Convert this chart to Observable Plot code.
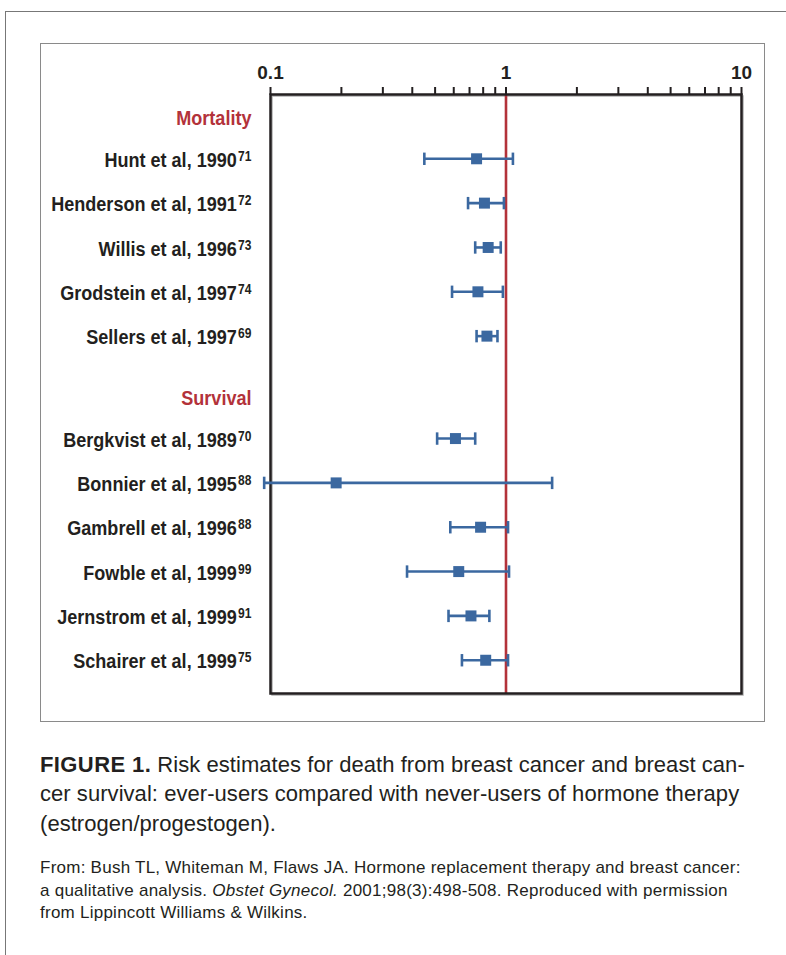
<!DOCTYPE html>
<html>
<head>
<meta charset="utf-8">
<script src="https://cdn.jsdelivr.net/npm/d3@7"></script>
<script src="https://cdn.jsdelivr.net/npm/@observablehq/plot@0.6"></script>
<style>
  html, body { margin: 0; padding: 0; background: #fff; }
  body { width: 786px; height: 955px; position: relative; overflow: hidden; }
  #outer { position: absolute; left: 5px; top: 11px; width: 800px; height: 960px;
           border-left: 1.5px solid #777; border-top: 1.5px solid #777; box-sizing: border-box; }
  #inner { position: absolute; left: 40px; top: 43px; width: 725px; height: 679px;
           border: 1.5px solid #8a8a8a; box-sizing: border-box; }
  #chart { position: absolute; left: 40px; top: 43px; }
  #chart svg { overflow: visible; }
  #caption { position: absolute; left: 40px; top: 749.5px; width: 745px;
             font-family: "Liberation Sans", Arial, sans-serif; font-size: 22px; line-height: 29.5px;
             letter-spacing: 0.05px; color: #231f20; white-space: nowrap; }
  #caption b { font-weight: bold; letter-spacing: 0.4px; }
  #source { position: absolute; left: 40px; top: 857px; width: 745px;
            font-family: "Liberation Sans", Arial, sans-serif; font-size: 17px; line-height: 22.5px;
            letter-spacing: 0.25px; color: #231f20; white-space: nowrap; }
</style>
</head>
<body>
<div id="outer"></div>
<div id="inner"></div>
<div id="chart"></div>
<div id="caption"><b>FIGURE 1.</b> Risk estimates for death from breast cancer and breast can-<br>cer survival: ever-users compared with never-users of hormone therapy<br>(estrogen/progestogen).</div>
<div id="source">From: Bush TL, Whiteman M, Flaws JA. Hormone replacement therapy and breast cancer:<br>a qualitative analysis. <i>Obstet Gynecol.</i> 2001;98(3):498-508. Reproduced with permission<br>from Lippincott Williams &amp; Wilkins.</div>
<script>
// ---- data ----
const studies = ["Hunt et al, 1990", "Henderson et al, 1991", "Willis et al, 1996", "Grodstein et al, 1997", "Sellers et al, 1997",
                 "Bergkvist et al, 1989", "Bonnier et al, 1995", "Gambrell et al, 1996", "Fowble et al, 1999", "Jernstrom et al, 1999", "Schairer et al, 1999"];
const refs    = ["71", "72", "73", "74", "69", "70", "88", "88", "99", "91", "75"];
const groups  = ["Mortality", "Mortality", "Mortality", "Mortality", "Mortality",
                 "Survival", "Survival", "Survival", "Survival", "Survival", "Survival"];
const estimate = [0.75, 0.81, 0.84, 0.76, 0.83, 0.61, 0.19, 0.78, 0.63, 0.71, 0.82];
const lower    = [0.45, 0.69, 0.74, 0.59, 0.75, 0.51, 0.094, 0.58, 0.38, 0.57, 0.65];
const upper    = [1.07, 0.98, 0.95, 0.97, 0.92, 0.74, 1.57, 1.02, 1.03, 0.85, 1.02];
const groupNames = ["Mortality", "Survival"];
const tickValues = [0.1, 0.2, 0.3, 0.4, 0.5, 0.6, 0.7, 0.8, 0.9, 1, 2, 3, 4, 5, 6, 7, 8, 9, 10];
const tickLabels = [0.1, 1, 10];

// ---- layout (row positions on a continuous y) ----
const groupStart = {Mortality: 1, Survival: 7.31};
const headerOffset = 0.94;
const counters = {};
const rows = studies.map((s, i) => {
  const g = groups[i];
  counters[g] = (counters[g] ?? 0);
  const row = groupStart[g] + counters[g]++;
  return {study: s, ref: refs[i], group: g, est: estimate[i], lo: lower[i], hi: upper[i], row};
});
const headers = groupNames.map(g => ({name: g, row: groupStart[g] - headerOffset}));

const blue = "#3b68a0";
const red = "#b3323a";
const ink = "#231f20";
const labelFont = "'Liberation Sans', Arial, sans-serif";
const condense = 0.86;

const capSymbol = {
  draw(context, size) {
    const h = Math.sqrt(size / Math.PI);
    context.moveTo(0, -h);
    context.lineTo(0, h);
  }
};

function condensed(addSup) {
  return function(index, scales, values, dimensions, context, next) {
    const g = next(index, scales, values, dimensions, context);
    g.querySelectorAll("text").forEach((t, k) => {
      const tr = t.getAttribute("transform") || "";
      t.setAttribute("transform", tr + ` scale(${condense},1)`);
      if (addSup) {
        const sup = document.createElementNS("http://www.w3.org/2000/svg", "tspan");
        sup.setAttribute("dy", "-6");
        sup.setAttribute("dx", "1.5");
        sup.setAttribute("font-size", "14");
        sup.textContent = rows[index[k]].ref;
        t.appendChild(sup);
      }
    });
    return g;
  };
}

const chart = Plot.plot({
  width: 724,
  height: 677,
  marginLeft: 230,
  marginRight: 23,
  marginTop: 51,
  marginBottom: 27,
  style: {background: "transparent", overflow: "visible"},
  x: {type: "log", domain: [0.1, 10], label: null},
  y: {domain: [-0.45, 13.06], reverse: true, axis: null},
  marks: [
    Plot.frame({stroke: "#b0b0b0", strokeWidth: 1.5, dx: 1.5, dy: 1.5}),
    Plot.ruleX([1], {stroke: red, strokeWidth: 2.6}),
    Plot.frame({stroke: ink, strokeWidth: 2.5}),
    Plot.axisX({
      anchor: "top",
      ticks: tickValues,
      tickSize: 8,
      tickPadding: 8,
      tickFormat: d => tickLabels.includes(d) ? String(d) : "",
      stroke: ink,
      strokeWidth: 2,
      fill: ink,
      fontSize: 19,
      fontWeight: "bold",
      fontFamily: "'Liberation Sans', Arial, sans-serif",
      label: null
    }),
    Plot.ruleY(rows, {y: "row", x1: "lo", x2: "hi", stroke: blue, strokeWidth: 2.6}),
    Plot.dot(rows, {x: "lo", y: "row", symbol: capSymbol, r: 6.2, fill: "none", stroke: blue, strokeWidth: 2.6}),
    Plot.dot(rows, {x: "hi", y: "row", symbol: capSymbol, r: 6.2, fill: "none", stroke: blue, strokeWidth: 2.6}),
    Plot.dot(rows, {x: "est", y: "row", symbol: "square", r: 6.2, fill: blue, stroke: null}),
    Plot.text(rows, {
      y: "row", frameAnchor: "left", dx: -19, dy: 1.5, textAnchor: "end",
      text: "study", fill: ink, fontSize: 21, fontWeight: "bold", fontFamily: labelFont,
      render: condensed(true)
    }),
    Plot.text(headers, {
      y: "row", frameAnchor: "left", dx: -19, dy: 1.5, textAnchor: "end",
      text: "name", fill: red, fontSize: 21, fontWeight: "bold", fontFamily: labelFont,
      render: condensed(false)
    })
  ]
});
document.getElementById("chart").appendChild(chart);
</script>
</body>
</html>
